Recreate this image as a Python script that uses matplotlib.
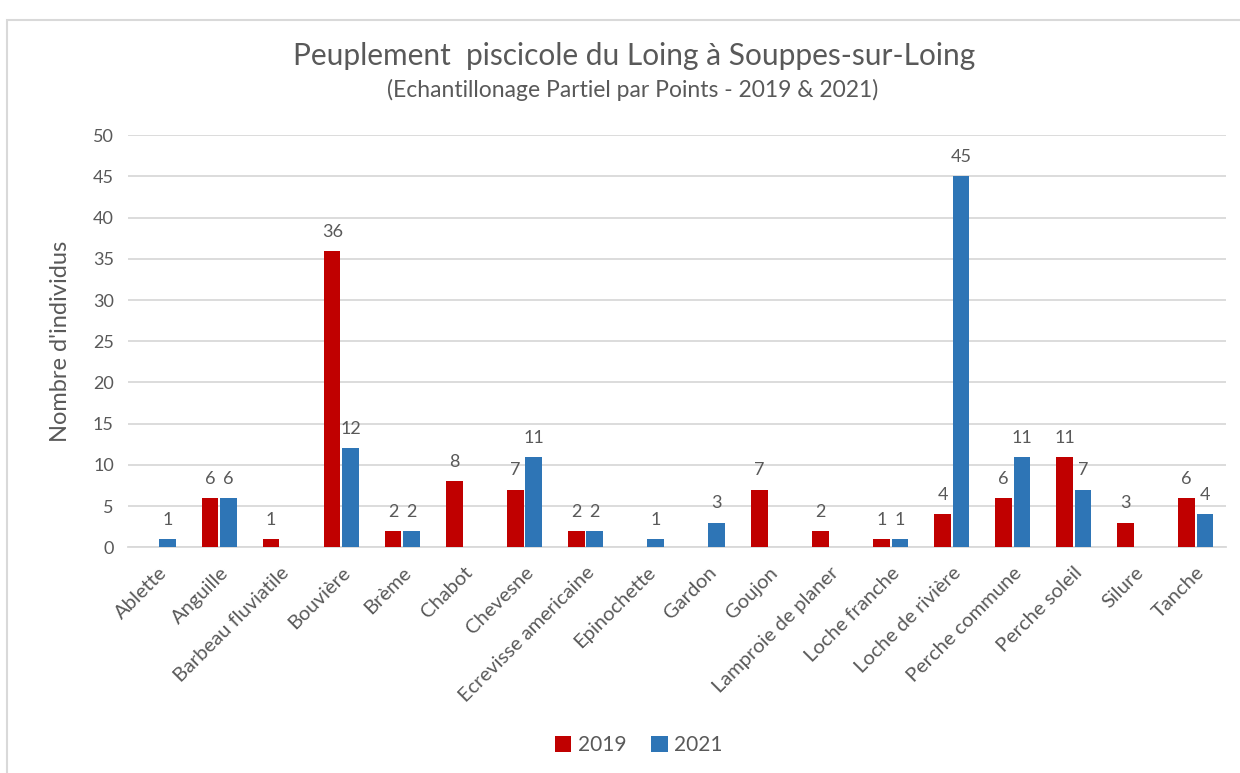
import numpy as np
import matplotlib.pyplot as plt
from matplotlib.patches import Rectangle

RED = '#C00000'
BLUE = '#2E75B6'
TEXT = '#595959'
GRID = '#D9D9D9'

species = ['Ablette', 'Anguille', 'Barbeau fluviatile', 'Bouvière', 'Brème', 'Chabot',
           'Chevesne', 'Ecrevisse americaine', 'Epinochette', 'Gardon', 'Goujon',
           'Lamproie de planer', 'Loche franche', 'Loche de rivière', 'Perche commune',
           'Perche soleil', 'Silure', 'Tanche']
counts_2019 = [0, 6, 1, 36, 2, 8, 7, 2, 0, 0, 7, 2, 1, 4, 6, 11, 3, 6]
counts_2021 = [1, 6, 0, 12, 2, 0, 11, 2, 1, 3, 0, 0, 1, 45, 11, 7, 0, 4]
years = ['2019', '2021']
y_ticks = [0, 5, 10, 15, 20, 25, 30, 35, 40, 45, 50]

plt.rcParams['font.family'] = ['Lato', 'DejaVu Sans']

fig = plt.figure(figsize=(12.4, 7.73), dpi=100)
ax = fig.add_axes([0.103, 0.292, 0.886, 0.533])

# light frame around the whole chart, like the Excel chart area
fig.patches.append(Rectangle((0.006, -0.05), 1.1, 1.03 - 0.006, transform=fig.transFigure,
                             fill=False, edgecolor=GRID, linewidth=1.5))

x = np.arange(len(species))
w = 0.27
bars1 = ax.bar(x - w / 2 - 0.015, counts_2019, w, color=RED, label=years[0], zorder=3)
bars2 = ax.bar(x + w / 2 + 0.015, counts_2021, w, color=BLUE, label=years[1], zorder=3)

for bars, vals in ((bars1, counts_2019), (bars2, counts_2021)):
    for b, v in zip(bars, vals):
        if v:
            ax.annotate(str(v), (b.get_x() + b.get_width() / 2, v), xytext=(0, 8),
                        textcoords='offset points', ha='center', va='bottom',
                        fontsize=13, color=TEXT)

ax.set_xlim(-0.5, len(species) - 0.5)
ax.set_ylim(0, 50)
ax.set_yticks(y_ticks)
ax.yaxis.grid(True, color=GRID, linewidth=1.3, zorder=0)
ax.set_axisbelow(True)
for s in ['top', 'right', 'left']:
    ax.spines[s].set_visible(False)
ax.spines['bottom'].set_color(GRID)
ax.spines['bottom'].set_linewidth(1.3)
ax.tick_params(axis='y', length=0, labelsize=13, labelcolor=TEXT, pad=10)
ax.tick_params(axis='x', length=0, labelsize=14.5, labelcolor=TEXT, pad=12)
ax.set_xticks(x)
ax.set_xticklabels(species, rotation=45, ha='right', rotation_mode='anchor')
ax.set_ylabel("Nombre d'individus", fontsize=17, color=TEXT, labelpad=16)

fig.text(0.511, 0.927, 'Peuplement  piscicole du Loing à Souppes-sur-Loing', ha='center',
         va='center', fontsize=21.5, color=TEXT)
fig.text(0.51, 0.883, '(Echantillonage Partiel par Points - 2019 & 2021)', ha='center',
         va='center', fontsize=16.5, color=TEXT)

fig.legend(loc='center', bbox_to_anchor=(0.515, 0.036), ncol=2, frameon=False,
           fontsize=15, handlelength=0.8, handleheight=0.8, handletextpad=0.3,
           columnspacing=1.2, labelcolor=TEXT)

fig.savefig('out.png', dpi=100)
